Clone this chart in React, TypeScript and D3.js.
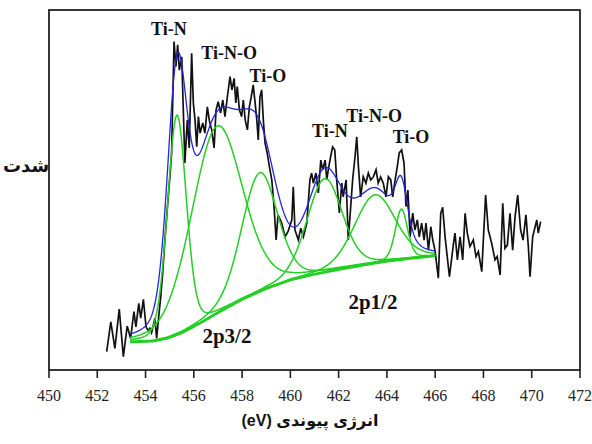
import React from 'react';
import * as d3 from 'd3';

// ---- data ----
const xTicks = [450, 452, 454, 456, 458, 460, 462, 464, 466, 468, 470, 472];

// measured XPS spectrum (binding energy eV, intensity a.u.)
const spectrumEV = [
  452.39, 452.56, 452.73, 452.91, 453.08, 453.24, 453.38, 453.52, 453.6, 453.72,
  453.8, 453.91, 454.02, 454.11, 454.18, 454.25, 454.39, 454.46, 454.56, 454.63,
  454.71, 454.81, 454.94, 455.01, 455.08, 455.18, 455.26, 455.33, 455.4, 455.5,
  455.56, 455.63, 455.73, 455.81, 455.91, 455.98, 456.05, 456.12, 456.19, 456.26,
  456.37, 456.46, 456.56, 456.64, 456.74, 456.84, 456.92, 457.01, 457.11, 457.2,
  457.29, 457.39, 457.5, 457.58, 457.67, 457.74, 457.8, 457.89, 457.98, 458.05,
  458.13, 458.22, 458.3, 458.38, 458.46, 458.54, 458.61, 458.67, 458.74, 458.81,
  458.88, 458.95, 459.04, 459.13, 459.23, 459.32, 459.41, 459.49, 459.64, 459.78,
  459.91, 460.06, 460.12, 460.19, 460.33, 460.43, 460.54, 460.68, 460.81, 460.88,
  460.95, 461.06, 461.16, 461.26, 461.34, 461.44, 461.51, 461.57, 461.67, 461.75,
  461.84, 461.92, 462.03, 462.13, 462.19, 462.31, 462.4, 462.5, 462.58, 462.68,
  462.75, 462.82, 462.91, 463.02, 463.13, 463.23, 463.33, 463.44, 463.55, 463.64,
  463.74, 463.85, 463.96, 464.06, 464.16, 464.24, 464.34, 464.43, 464.51, 464.61,
  464.71, 464.79, 464.87, 464.96, 465.07, 465.16, 465.26, 465.34, 465.44, 465.54,
  465.62, 465.72, 465.82, 465.9, 465.99, 466.13, 466.23, 466.31, 466.41, 466.59,
  466.75, 466.82, 466.92, 467.03, 467.14, 467.24, 467.33, 467.44, 467.58, 467.69,
  467.79, 467.93, 468.09, 468.2, 468.34, 468.48, 468.57, 468.69, 468.8, 468.89,
  468.99, 469.1, 469.21, 469.31, 469.42, 469.54, 469.64, 469.76, 469.86, 469.93,
  470.04, 470.14, 470.21, 470.27, 470.37,
];
const spectrumI = [
  5.1, 13.4, 6.0, 16.9, 3.7, 12.2, 8.8, 16.2, 12.0, 18.5,
  14.4, 19.6, 12.0, 10.9, 11.6, 10.4, 14.4, 8.8, 15.8, 20.4,
  26.9, 37.0, 48.1, 53.7, 60.3, 91.2, 84.3, 90.3, 83.3, 87.0,
  73.1, 57.5, 69.4, 61.7, 88.0, 74.2, 69.4, 62.0, 70.4, 65.8,
  68.6, 65.8, 73.1, 69.4, 66.7, 61.7, 72.2, 74.5, 71.4, 75.0,
  70.4, 75.9, 81.5, 77.8, 81.0, 74.2, 78.7, 72.2, 70.4, 75.0,
  69.4, 66.7, 73.1, 75.9, 79.2, 74.2, 69.4, 63.9, 75.9, 77.8,
  69.4, 63.1, 60.3, 56.5, 52.8, 45.8, 36.1, 43.1, 40.8, 37.0,
  38.6, 41.7, 50.9, 38.9, 36.1, 39.4, 37.0, 40.8, 52.8, 54.7,
  51.9, 54.7, 49.2, 58.3, 55.6, 58.3, 52.8, 55.6, 59.3, 62.0,
  61.1, 52.8, 43.6, 51.9, 48.1, 52.8, 36.1, 45.4, 52.8, 59.3,
  64.8, 56.5, 48.1, 53.7, 51.9, 54.7, 52.8, 53.7, 55.6, 51.9,
  53.6, 51.9, 48.1, 53.7, 52.8, 48.1, 52.8, 56.5, 60.3, 61.1,
  57.5, 45.4, 50.0, 37.0, 43.6, 38.9, 41.7, 37.0, 40.8, 36.1,
  40.8, 33.3, 39.8, 36.1, 33.3, 25.5, 43.5, 45.2, 37.0, 25.9,
  34.7, 38.0, 30.6, 37.0, 30.6, 43.5, 38.0, 34.3, 36.1, 31.5,
  32.9, 27.3, 48.6, 38.9, 35.2, 30.6, 31.5, 26.4, 46.3, 33.8,
  34.7, 43.5, 33.3, 42.6, 48.6, 38.9, 36.1, 43.1, 34.3, 25.9,
  37.0, 39.8, 41.7, 38.0, 41.2,
];

// Shirley-type background knots
const bgEV = [453.36, 454.3, 454.9, 455.5, 456.2, 457.0, 458.0, 459.0, 460.0, 461.0, 462.0, 463.0, 464.0, 465.0, 466.0];
const bgI = [7.8, 8.0, 8.8, 10.3, 12.8, 15.9, 19.6, 22.6, 25.0, 26.6, 27.9, 29.1, 30.2, 31.0, 31.7];

// fitted components (2p3/2: first three, 2p1/2: last three)
const peakNames = ['Ti-N', 'Ti-N-O', 'Ti-O', 'Ti-N', 'Ti-N-O', 'Ti-O'];
const peakCenters = [455.3, 456.95, 458.72, 461.42, 463.5, 464.6];
const peakHeights = [61, 52, 33, 26, 19, 14];
const peakFwhm = [0.92, 2.5, 1.75, 1.72, 2.0, 0.6];
const peakMix = [0.2, 0.2, 0.2, 0.2, 0.2, 0.3];

const fitRange = [453.36, 466.0];

function pv(e: number, i: number) {
  const c = peakCenters[i], h = peakHeights[i], F = peakFwhm[i], eta = peakMix[i];
  const t = ((e - c) * (e - c)) / (F * F);
  return h * ((1 - eta) * Math.exp(-4 * Math.LN2 * t) + eta / (1 + 4 * t));
}

const serif = '"Liberation Serif", "Times New Roman", Times, serif';

export default function App() {
  const W = 592, H = 444;
  const x = d3.scaleLinear().domain([450, 472]).range([49, 580]);
  const y = d3.scaleLinear().domain([0, 100]).range([370, 10]);
  const bg = d3.scaleLinear().domain(bgEV).range(bgI).clamp(true);

  const grid = d3.range(fitRange[0], fitRange[1] + 0.0001, 0.02);
  const line = d3.line<[number, number]>().x(d => x(d[0])).y(d => y(d[1]));

  const dataPts: [number, number][] = spectrumEV.map((e, i) => [e, spectrumI[i]]);
  const bgPts: [number, number][] = grid.map(e => [e, bg(e)]);
  const comps = peakCenters.map((_, k) => grid.map(e => [e, bg(e) + pv(e, k)] as [number, number]));
  const envPts: [number, number][] = grid.map(e => {
    let s = bg(e);
    for (let k = 0; k < peakCenters.length; k++) s += pv(e, k);
    return [e, s];
  });

  const green = '#24cf24';
  const labels: { t: string; e: number; v: number; s: number }[] = [
    { t: peakNames[0], e: 454.97, v: 93.1, s: 18 },
    { t: peakNames[1], e: 457.46, v: 86.4, s: 18 },
    { t: peakNames[2], e: 459.07, v: 80.0, s: 18 },
    { t: peakNames[3], e: 461.64, v: 64.7, s: 18 },
    { t: peakNames[4], e: 463.47, v: 68.9, s: 18 },
    { t: peakNames[5], e: 465.0, v: 63.1, s: 18 },
    { t: '2p1/2', e: 463.42, v: 17.0, s: 21 },
    { t: '2p3/2', e: 457.37, v: 7.4, s: 21 },
  ];
  const y0 = y(0);

  return (
    <svg width={W} height={H} style={{ position: 'absolute', left: 0, top: 0, background: '#fff' }}>
      <rect x={0} y={0} width={W} height={H} fill="#fff" />
      <path d={line(dataPts) || ''} fill="none" stroke="#111" strokeWidth={1.7} strokeLinejoin="miter" />
      <path d={line(bgPts) || ''} fill="none" stroke={green} strokeWidth={2.6} />
      {comps.map((c, k) => (
        <path key={k} d={line(c) || ''} fill="none" stroke={green} strokeWidth={1.5} />
      ))}
      <path d={line(envPts) || ''} fill="none" stroke="#2424e0" strokeWidth={1.3} />
      <rect x={49} y={10} width={531} height={360} fill="none" stroke="#222" strokeWidth={1.8} />
      <g>
        {xTicks.map(t => (
          <g key={t} transform={`translate(${x(t)},${y0})`}>
            <line y1={0} y2={8} stroke="#222" strokeWidth={1.6} />
            <text y={31} textAnchor="middle" fontFamily={serif} fontSize={16} fill="#222">{t}</text>
          </g>
        ))}
      </g>
      {labels.map((l, i) => (
        <text key={i} x={x(l.e)} y={y(l.v)} textAnchor="middle" fontFamily={serif}
          fontWeight="bold" fontSize={l.s} fill="#111">{l.t}</text>
      ))}
      <text x={26} y={172} textAnchor="middle" fontFamily='"DejaVu Sans", sans-serif'
        fontWeight="bold" fontSize={18} fill="#111">شدت</text>
      <text x={310} y={426} textAnchor="middle" direction="rtl"
        fontFamily='"Liberation Sans", "DejaVu Sans", sans-serif' fontWeight="bold" fontSize={16} fill="#111">
        انرژی پیوندی (eV)
      </text>
    </svg>
  );
}
